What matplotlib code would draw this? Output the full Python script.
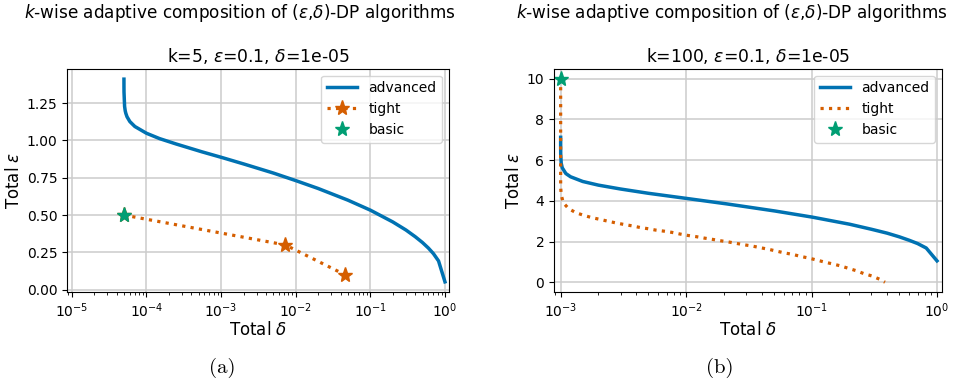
import matplotlib
matplotlib.use("Agg")
import matplotlib.pyplot as plt

# ---- panel (a): k=5, eps=0.1, delta=1e-05 ----
adv_a_delta = [5.0005e-5, 5.001e-5, 5.003e-5, 5.01e-5, 5.1e-5, 5.2e-5, 5.3e-5, 5.5e-5,
               6e-5, 7e-5, 1e-4, 1.5e-4, 2.5e-4, 5.5e-4, 1.05e-3, 2.05e-3, 5.05e-3,
               1.0e-2, 2.0e-2, 5.0e-2, 0.1, 0.2, 0.3, 0.4, 0.5, 0.6, 0.7, 0.82, 1.0]
adv_a_eps = [1.410, 1.395, 1.360, 1.323, 1.228, 1.198, 1.181, 1.158,
             1.126, 1.093, 1.048, 1.012, 0.976, 0.924, 0.884, 0.841, 0.781,
             0.731, 0.678, 0.600, 0.533, 0.454, 0.400, 0.355, 0.316, 0.279, 0.242,
             0.193, 0.053]
tight_a_delta = [5.0e-5, 7.28e-3, 4.59e-2]
tight_a_eps = [0.5, 0.3, 0.1]
basic_a_delta = [5.0e-5]
basic_a_eps = [0.5]

# ---- panel (b): k=100, eps=0.1, delta=1e-05 ----
adv_b_delta = [1.00001e-3, 1.0001e-3, 1.001e-3, 1.01e-3, 1.03e-3, 1.1e-3, 1.2e-3, 1.5e-3,
               2e-3, 3e-3, 5e-3, 1e-2, 2.1e-2, 5.1e-2, 0.101, 0.201, 0.301, 0.401,
               0.501, 0.601, 0.701, 0.821, 1.0]
adv_b_eps = [7.12, 6.73, 6.31, 5.85, 5.62, 5.34, 5.18, 4.95,
             4.77, 4.58, 4.37, 4.12, 3.85, 3.50, 3.20, 2.85, 2.60, 2.41,
             2.23, 2.06, 1.90, 1.68, 1.05]
tight_b_delta = [1.000e-3, 1.000e-3, 1.01e-3, 1.05e-3, 1.16e-3, 1.33e-3, 1.54e-3, 1.78e-3,
                 2.05e-3, 2.37e-3, 2.73e-3, 3.18e-3, 3.71e-3, 4.29e-3, 4.96e-3, 5.74e-3,
                 6.65e-3, 7.7e-3, 8.9e-3, 1.03e-2, 1.2e-2, 1.39e-2, 1.61e-2, 1.87e-2,
                 2.17e-2, 2.51e-2, 2.9e-2, 3.35e-2, 3.88e-2, 4.53e-2, 5.25e-2, 6.08e-2,
                 7.05e-2, 8.17e-2, 9.46e-2, 0.110, 0.127, 0.147, 0.171, 0.195, 0.226,
                 0.262, 0.302, 0.348, 0.385]
tight_b_eps = [10.0, 4.7, 4.3, 3.9, 3.61, 3.41, 3.28, 3.17,
               3.09, 3.00, 2.92, 2.84, 2.77, 2.69, 2.63, 2.56,
               2.51, 2.45, 2.37, 2.30, 2.24, 2.17, 2.11, 2.04,
               1.98, 1.91, 1.84, 1.78, 1.70, 1.62, 1.53, 1.44,
               1.37, 1.27, 1.19, 1.09, 0.99, 0.90, 0.80, 0.69, 0.57,
               0.42, 0.31, 0.15, 0.0]
basic_b_delta = [1.0e-3]
basic_b_eps = [10.0]

C_ADV = "#0072B2"
C_TIGHT = "#D55E00"
C_BASIC = "#009E73"

plt.rcParams["font.family"] = ["DejaVu Sans"]
plt.rcParams["mathtext.fontset"] = "dejavusans"

fig = plt.figure(figsize=(9.55, 3.84), dpi=100)

W, H = 955.0, 384.0
def box(x0, y0, x1, y1):
    return [x0 / W, 1 - y1 / H, (x1 - x0) / W, (y1 - y0) / H]

ax_a = fig.add_axes(box(67.3, 68.7, 449.0, 292.0))
ax_b = fig.add_axes(box(554.0, 68.7, 942.0, 292.0))

TICK_FS = 10
LABEL_FS = 12
TITLE_FS = 12.3
LEG_FS = 10

def style(ax):
    ax.set_xscale("log")
    ax.grid(True, which="major", color="#cccccc", linewidth=1.1)
    ax.set_axisbelow(True)
    ax.tick_params(labelsize=TICK_FS)
    ax.set_xlabel(r"Total $\delta$", fontsize=LABEL_FS, labelpad=0.5)
    ax.set_ylabel(r"Total $\epsilon$", fontsize=LABEL_FS, labelpad=2.5)

# panel (a)
ax_a.plot(adv_a_delta, adv_a_eps, color=C_ADV, lw=2.5, label="advanced")
ax_a.plot(tight_a_delta, tight_a_eps, color=C_TIGHT, lw=2.3, ls=":", marker="*",
          ms=11, label="tight")
ax_a.plot(basic_a_delta, basic_a_eps, color=C_BASIC, lw=0, marker="*", ms=11,
          label="basic")
style(ax_a)
ax_a.set_xlim(10 ** -5.06, 10 ** 0.054)
ax_a.set_ylim(-0.015, 1.48)
ax_a.set_yticks([0.0, 0.25, 0.5, 0.75, 1.0, 1.25])
ax_a.set_yticklabels(["0.00", "0.25", "0.50", "0.75", "1.00", "1.25"])
ax_a.set_xticks([1e-5, 1e-4, 1e-3, 1e-2, 1e-1, 1e0])
ax_a.set_title(r"k=5, $\epsilon$=0.1, $\delta$=1e-05", fontsize=TITLE_FS, pad=5)
ax_a.legend(loc="upper right", fontsize=LEG_FS, handlelength=2.2)

# panel (b)
ax_b.plot(adv_b_delta, adv_b_eps, color=C_ADV, lw=2.5, label="advanced")
ax_b.plot(tight_b_delta, tight_b_eps, color=C_TIGHT, lw=2.3, ls=":", label="tight")
ax_b.plot(basic_b_delta, basic_b_eps, color=C_BASIC, lw=0, marker="*", ms=11,
          label="basic")
style(ax_b)
ax_b.set_xlim(10 ** -3.053, 10 ** 0.04)
ax_b.set_ylim(-0.48, 10.49)
ax_b.set_yticks([0, 2, 4, 6, 8, 10])
ax_b.set_xticks([1e-3, 1e-2, 1e-1, 1e0])
ax_b.set_title(r"k=100, $\epsilon$=0.1, $\delta$=1e-05", fontsize=TITLE_FS, pad=5)
ax_b.legend(loc="upper right", fontsize=LEG_FS, handlelength=2.2)

# headings above each panel
head = r"$k$-wise adaptive composition of ($\epsilon$,$\delta$)-DP algorithms"
fig.text(240 / W, 1 - 13 / H, head, ha="center", va="center", fontsize=12.2)
fig.text(732 / W, 1 - 13 / H, head, ha="center", va="center", fontsize=12.2)

# sub-figure captions
fig.text(222 / W, 1 - 368 / H, "(a)", ha="center", va="center", fontsize=15,
         family="cmr10")
fig.text(720 / W, 1 - 368 / H, "(b)", ha="center", va="center", fontsize=15,
         family="cmr10")

fig.savefig("out.png", dpi=100)
